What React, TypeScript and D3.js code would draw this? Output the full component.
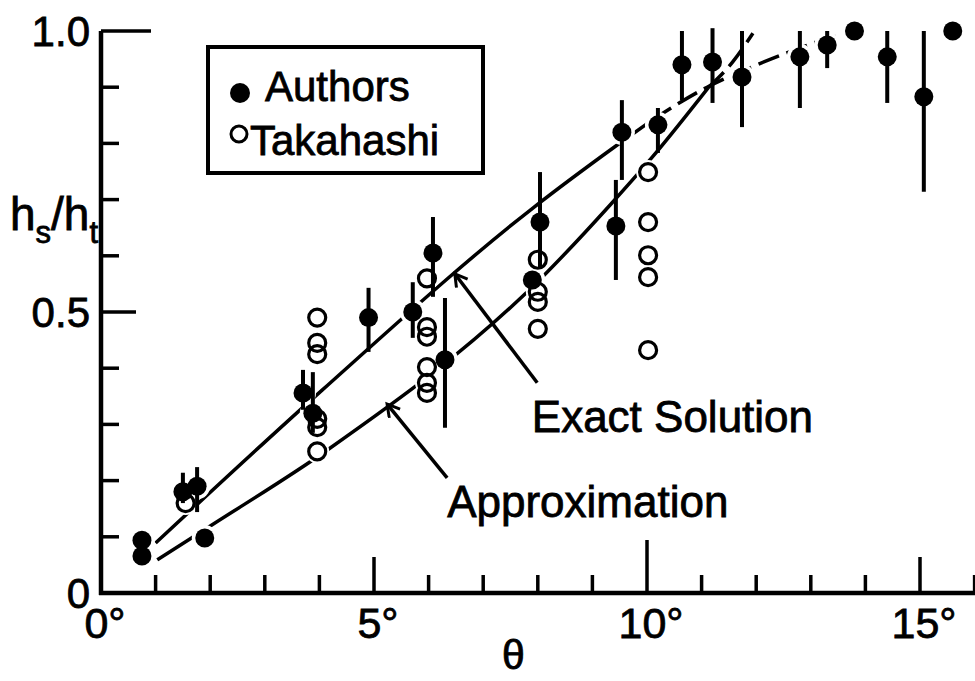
import React from "react";
import * as d3 from "d3";

// Authors (filled circles) with error bars
const authorsTheta = [0.75, 0.75, 1.5, 1.76, 1.9, 3.7, 3.88, 4.9, 5.71, 6.08, 6.3, 7.9, 8.04, 9.43, 9.54, 10.2, 10.64, 11.2, 11.74, 12.8, 13.3, 13.8, 14.4, 15.07, 15.6];
const authorsH = [0.094, 0.066, 0.18, 0.19, 0.098, 0.356, 0.32, 0.49, 0.5, 0.605, 0.415, 0.557, 0.66, 0.653, 0.82, 0.833, 0.94, 0.945, 0.918, 0.954, 0.975, 1.0, 0.954, 0.883, 1.0];
const authorsLo = [null, null, 0.16, 0.144, null, 0.326, 0.285, 0.429, 0.454, 0.527, 0.294, null, 0.578, 0.557, 0.735, 0.783, 0.877, 0.872, 0.829, 0.863, 0.934, null, 0.872, 0.714, null];
const authorsHi = [null, null, 0.214, 0.224, null, 0.397, 0.393, 0.543, 0.553, 0.669, 0.525, null, 0.749, 0.735, 0.877, 0.863, 1.0, 1.005, 1.0, 1.0, 1.0, null, 1.0, 1.0, null];

// Takahashi (open circles)
const takaTheta = [1.55, 3.96, 3.96, 3.96, 3.96, 3.96, 3.96, 5.97, 5.97, 5.97, 5.97, 5.97, 5.97, 8.0, 8.0, 8.0, 8.0, 10.02, 10.02, 10.02, 10.02, 10.02];
const takaH = [0.16, 0.49, 0.445, 0.425, 0.31, 0.295, 0.252, 0.56, 0.473, 0.456, 0.402, 0.374, 0.356, 0.593, 0.536, 0.518, 0.47, 0.749, 0.66, 0.601, 0.562, 0.432];

// theory curves
const exactTheta = [1.0, 4.05, 7.91, 9.41, 10.1, 11.1, 11.92, 12.56, 13.6, 14.0];
const exactH = [0.089, 0.361, 0.685, 0.794, 0.842, 0.9, 0.936, 0.961, 0.993, 0.996];
const approxTheta = [1.03, 2.03, 4.14, 8.08, 9.32, 10.1, 11.12, 11.57, 11.94];
const approxH = [0.059, 0.121, 0.254, 0.562, 0.69, 0.776, 0.899, 0.945, 0.996];
const exactDashFrom = 10.1;
const approxDashFrom = 11.12;

const xTicks = d3.range(1, 17);
const xTickLabels = [0, 5, 10, 15];
const yTicks = d3.range(1, 11).map((d) => d / 10);
const yTickLabels = [0, 0.5, 1.0];
const legendLabels = ["Authors", "Takahashi"];

// annotation: [label, tipTheta, tipH, tailTheta, tailH, textTheta, textH]
const annotations: [string, number, number, number, number, number, number][] = [
  ["Exact Solution", 6.48, 0.568, 7.99, 0.374, 7.89, 0.286],
  ["Approximation", 5.24, 0.336, 6.34, 0.205, 6.34, 0.135],
];

const width = 975;
const height = 681;
const font = "'Liberation Sans', Arial, Helvetica, sans-serif";

const x = d3.scaleLinear().domain([0, 15]).range([101, 920]);
const y = d3.scaleLinear().domain([0, 1]).range([593, 31]);

const line = d3
  .line<[number, number]>()
  .x((d) => x(d[0]))
  .y((d) => y(d[1]))
  .curve(d3.curveMonotoneX);

const zip = (a: number[], b: number[]) => a.map((v, i) => [v, b[i]] as [number, number]);

const App: React.FC = () => {
  const exact = zip(exactTheta, exactH);
  const approx = zip(approxTheta, approxH);
  const authors = authorsTheta.map((t, i) => ({ t, h: authorsH[i], lo: authorsLo[i], hi: authorsHi[i] }));
  const taka = zip(takaTheta, takaH);

  return (
    <svg
      width={width}
      height={height}
      style={{ position: "absolute", left: 0, top: 0, background: "#fff" }}
      fontFamily={font}
    >
      <defs>
        <marker id="arr" markerUnits="userSpaceOnUse" markerWidth="20" markerHeight="20" refX="14" refY="8" orient="auto">
          <path d="M2,1 L14,8 L2,15" fill="none" stroke="#000" strokeWidth={3} />
        </marker>
      </defs>

      {/* curves */}
      <g fill="none" stroke="#000" strokeWidth={3.5}>
        <path d={line(exact.filter((d) => d[0] <= exactDashFrom)) || ""} />
        <path d={line(exact.filter((d) => d[0] >= exactDashFrom)) || ""} strokeDasharray="22 8" />
        <path d={line(approx.filter((d) => d[0] <= approxDashFrom)) || ""} />
        <path d={line(approx.filter((d) => d[0] >= approxDashFrom)) || ""} strokeDasharray="22 8" />
      </g>

      {/* white halos break the curves around points */}
      <g fill="#fff">
        {authors.map((d, i) => (
          <circle key={"ha" + i} cx={x(d.t)} cy={y(d.h)} r={13} />
        ))}
        {taka.map((d, i) => (
          <circle key={"ht" + i} cx={x(d[0])} cy={y(d[1])} r={12} />
        ))}
      </g>

      {/* error bars */}
      <g stroke="#000" strokeWidth={4}>
        {authors
          .filter((d) => d.lo != null && d.hi != null)
          .map((d, i) => (
            <line key={"e" + i} x1={x(d.t)} x2={x(d.t)} y1={y(d.lo as number)} y2={y(d.hi as number)} />
          ))}
      </g>

      {/* Takahashi */}
      <g fill="none" stroke="#000" strokeWidth={3.2}>
        {taka.map((d, i) => (
          <circle key={"t" + i} cx={x(d[0])} cy={y(d[1])} r={8.5} />
        ))}
      </g>

      {/* Authors */}
      <g fill="#000">
        {authors.map((d, i) => (
          <circle key={"a" + i} cx={x(d.t)} cy={y(d.h)} r={9.5} />
        ))}
      </g>

      {/* annotations */}
      {annotations.map(([label, tx, th, lx, lh, px, ph]) => (
        <g key={label}>
          <line x1={x(lx)} y1={y(lh)} x2={x(tx)} y2={y(th)} stroke="#000" strokeWidth={3.5} markerEnd="url(#arr)" />
          <text x={x(px)} y={y(ph)} fontSize={44} stroke="#000" strokeWidth={0.8}>
            {label}
          </text>
        </g>
      ))}

      {/* axes */}
      <g stroke="#000">
        <line x1={x(0)} x2={x(0)} y1={y(1)} y2={y(0) + 2} strokeWidth={4.5} />
        <line x1={x(0) - 2} x2={width} y1={y(0)} y2={y(0)} strokeWidth={4.5} />
        {yTicks.map((v) => (
          <line
            key={"yt" + v}
            x1={x(0)}
            x2={x(0) + (v === 1 ? 50 : v === 0.5 ? 35 : 18)}
            y1={y(v)}
            y2={y(v)}
            strokeWidth={3.5}
          />
        ))}
        {xTicks.map((v) => (
          <line
            key={"xt" + v}
            x1={x(v)}
            x2={x(v)}
            y1={y(0)}
            y2={y(0) - (v === 10 ? 53 : v % 5 === 0 ? 36 : 18)}
            strokeWidth={3.5}
          />
        ))}
      </g>

      <g fontSize={42} fill="#000" stroke="#000" strokeWidth={0.8}>
        {yTickLabels.map((v) => (
          <text key={"yl" + v} x={x(0) - 11} y={y(v)} textAnchor="end" dominantBaseline="central">
            {v === 0 ? "0" : v.toFixed(1)}
          </text>
        ))}
        {xTickLabels.map((v) => (
          <text key={"xl" + v} x={x(v) + 4} y={638} textAnchor="middle" fontSize={43}>
            {v + "°"}
          </text>
        ))}
        <text x={x(7.5) + 3} y={669} textAnchor="middle" fontSize={41}>
          θ
        </text>
        <text x={10} y={230} fontSize={46}>
          h
          <tspan fontSize={31} dy={13}>s</tspan>
          <tspan dy={-13}>/h</tspan>
          <tspan fontSize={31} dy={13}>t</tspan>
        </text>
      </g>

      {/* legend */}
      <g>
        <rect x={208} y={47} width={275} height={126} fill="#fff" stroke="#000" strokeWidth={4} />
        <circle cx={240} cy={93} r={10} fill="#000" />
        <circle cx={239} cy={134} r={8} fill="none" stroke="#000" strokeWidth={3} />
        <text x={265} y={101} fontSize={42} stroke="#000" strokeWidth={0.8}>
          {legendLabels[0]}
        </text>
        <text x={250} y={155} fontSize={42} stroke="#000" strokeWidth={0.8}>
          {legendLabels[1]}
        </text>
      </g>
    </svg>
  );
};

export default App;
